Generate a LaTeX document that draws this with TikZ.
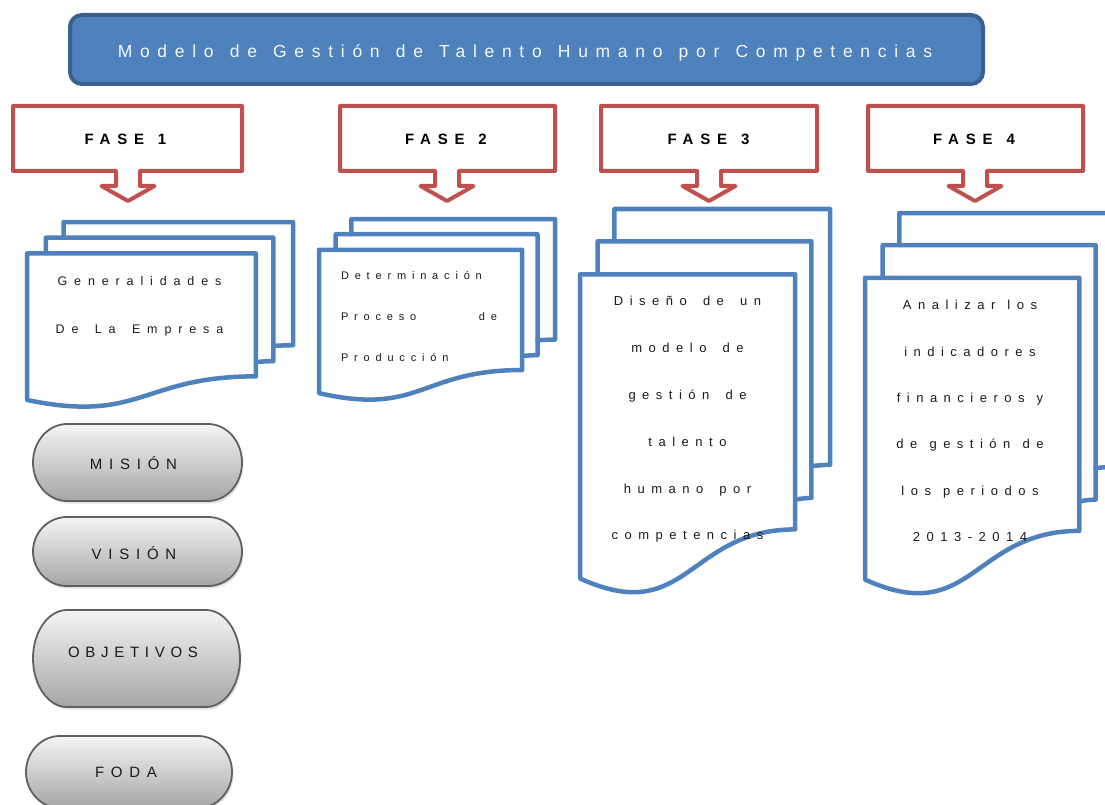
\documentclass[tikz,border=0pt]{standalone}
\usepackage{fontspec}
\setmainfont{Liberation Sans}
% letter-spaced variants of the same face
\newfontfamily\titlefont[LetterSpace=44]{Liberation Sans}
\newfontfamily\fasefont[LetterSpace=45]{Liberation Sans}
\newfontfamily\docAfont[LetterSpace=55]{Liberation Sans}
\newfontfamily\docBfont[LetterSpace=53]{Liberation Sans}
\newfontfamily\docCfont[LetterSpace=50]{Liberation Sans}
\newfontfamily\pillfont[LetterSpace=45]{Liberation Sans}
\newfontfamily\pillnarrowfont[LetterSpace=38]{Liberation Sans}

% widen the interword space of the current font by #1
\newcommand\widenspace[1]{\spaceskip\dimexpr\fontdimen2\font+#1\relax}

% font set-ups
\newcommand\titlestyle{\titlefont\fontsize{17.5}{20}\selectfont\widenspace{3.6pt}}
\newcommand\fasestyle{\fasefont\bfseries\fontsize{15}{18}\selectfont\widenspace{3pt}}
\newcommand\docAstyle{\docAfont\fontsize{12.5}{48}\selectfont\widenspace{6pt}}
\newcommand\docBstyle{\docBfont\fontsize{11}{41}\selectfont}
\newcommand\docCstyle{\docCfont\fontsize{13}{46.8}\selectfont\widenspace{6pt}}
\newcommand\docDstyle{\docCfont\fontsize{13}{46.4}\selectfont\widenspace{2pt}}
\newcommand\pillstyle{\pillfont\fontsize{15}{18}\selectfont}
\newcommand\pillnarrowstyle{\pillnarrowfont\fontsize{15}{18}\selectfont}

\definecolor{accblue}{HTML}{4F81BD}
\definecolor{accdark}{HTML}{3A6090}
\definecolor{accred}{HTML}{C0504D}
\definecolor{pillline}{HTML}{606060}
\definecolor{inktext}{HTML}{1A1A1A}
\definecolor{titleink}{HTML}{F4F6FA}

\tikzset{
  titlebox/.style={draw=accdark, fill=accblue, line width=4pt, rounded corners=12pt},
  titletext/.style={inner sep=0pt, text=titleink, font=\titlestyle},
  calloutbox/.style={draw=accred, fill=white, line width=4pt, line join=round},
  fasetext/.style={inner sep=0pt, text=black, font=\fasestyle},
  docline/.style={draw=accblue, line width=4.5pt, line join=round, line cap=round},
  doctext/.style={inner sep=0pt, text=inktext},
  pillbody/.style={draw=pillline, line width=1.8pt, top color=white!96!black, bottom color=black!35},
  pillshadow/.style={fill=black!25, opacity=0.45},
  pilltext/.style={inner sep=0pt, text=inktext, font=\pillstyle},
}

% stacked-document flowchart symbol: left x, top y, width, height
\newcommand\multidoc[4]{%
  \begin{scope}[shift={(#1,#2)}, x=#3pt/216, y=-#4pt/216]
    \draw[docline] (29.72,18.15) -- (29.72,0) -- (216,0) -- (216,143.92)
      .. controls (208,143.92) and (200,144.67) .. (200,144.67);
    \draw[docline] (15.32,36.75) -- (15.32,18.15) -- (200,18.15) -- (200,162.52)
      .. controls (192.98,162.52) and (185.95,163.52) .. (185.95,163.52);
    \draw[docline, fill=white] (0,36.75) -- (185.95,36.75) -- (185.95,180.22)
      .. controls (92.98,180.22) and (92.98,235.42) .. (0,207.82) -- cycle;
  \end{scope}}

% callout box with a downward arrow: left x, right x, arrow x
\newcommand\faseshape[3]{%
  \draw[calloutbox] (#1,106) -- (#2,106) -- (#2,171) -- (#3+12,171) -- (#3+12,186)
    -- (#3+26.5,186) -- (#3,201) -- (#3-26.5,186) -- (#3-12,186) -- (#3-12,171)
    -- (#1,171) -- cycle;}

% terminator (pill) with elliptic ends: centre x, centre y, width, height
\newcommand\pillshape[4]{%
  \pgfmathsetmacro\pillHW{#3/2}%
  \pgfmathsetmacro\pillHH{#4/2}%
  \pgfmathsetmacro\pillIX{\pillHW-34}%
  \pgfmathsetmacro\pillCX{\pillIX+0.5523*34}%
  \pgfmathsetmacro\pillCY{0.5523*\pillHH}%
  \def\pillpath{(-\pillIX,-\pillHH) -- (\pillIX,-\pillHH)
    .. controls (\pillCX,-\pillHH) and (\pillHW,-\pillCY) .. (\pillHW,0)
    .. controls (\pillHW,\pillCY) and (\pillCX,\pillHH) .. (\pillIX,\pillHH)
    -- (-\pillIX,\pillHH)
    .. controls (-\pillCX,\pillHH) and (-\pillHW,\pillCY) .. (-\pillHW,0)
    .. controls (-\pillHW,-\pillCY) and (-\pillCX,-\pillHH) .. cycle}%
  \begin{scope}[shift={(#1,#2)}]
    \fill[pillshadow, shift={(1.5,2.5)}] \pillpath;
    \draw[pillbody] \pillpath;
  \end{scope}}

\begin{document}
\begin{tikzpicture}[x=1pt, y=-1pt]
  \useasboundingbox (0,0) rectangle (1105,805);
  \clip (0,0) rectangle (1105,805);

  % heading bar
  \draw[titlebox] (70,15) rectangle (983,84);
  \node[titletext] (title) at (525,53)
    {Modelo de Gestión de Talento Humano por Competencias};

  % phase callouts
  \faseshape{13}{242}{128}
  \faseshape{340}{555}{447}
  \faseshape{601}{817}{709}
  \faseshape{868}{1083}{975}
  \node[fasetext] (f1) at (125.5,139) {FASE 1};
  \node[fasetext] (f2) at (446,139) {FASE 2};
  \node[fasetext] (f3) at (708.5,139) {FASE 3};
  \node[fasetext] (f4) at (974,139) {FASE 4};

  % document stacks
  \multidoc{27}{222}{266}{185}
  \multidoc{319}{219}{236}{181}
  \multidoc{580}{209}{250}{384}
  \multidoc{865}{213}{249}{381}

  \node[doctext, align=center, font=\docAstyle]
    (d1) at (139.5,306) {Generalidades\\De La Empresa};
  \node[doctext, align=left, text width=156pt, font=\docBstyle]
    (d2) at (419,317) {Determinación\\Proceso\hfill de\\Producción};
  \node[doctext, align=center, font=\docCstyle]
    (d3) at (687.5,419.5) {Diseño de un\\modelo de\\gestión de\\talento\\humano por\\competencias};
  \node[doctext, align=center, font=\docDstyle]
    (d4) at (970,421) {Analizar los\\indicadores\\financieros y\\de gestión de\\los periodos\\2013-2014};

  % pills of phase one
  \pillshape{137.5}{462.5}{209}{77}
  \pillshape{137.5}{551.5}{209}{69}
  \pillshape{136.5}{658.5}{207}{97}
  \pillshape{129}{772}{206}{72}
  \node[pilltext] (mision) at (133.5,463) {MISIÓN};
  \node[pilltext] (vision) at (134,553) {VISIÓN};
  \node[pilltext, font=\pillnarrowstyle] (objetivos) at (133,652) {OBJETIVOS};
  \node[pilltext] (foda) at (126,772) {FODA};
\end{tikzpicture}
\end{document}
